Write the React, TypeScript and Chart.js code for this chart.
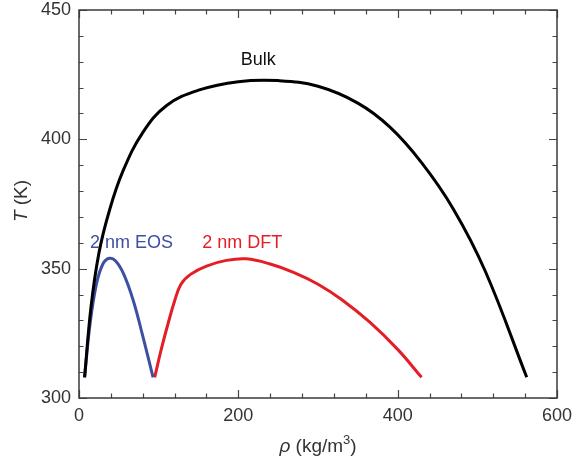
import React, { useEffect, useRef } from "react";
import { Chart, registerables } from "chart.js";

Chart.register(...registerables);

// Bulk coexistence curve
const bulkRho = [7, 15, 25, 38, 55, 80, 110, 150, 200, 250, 300, 350, 390, 430, 470, 510, 562];
const bulkT = [308, 335, 356, 372.3, 387.6, 402.6, 413.1, 419, 422.3, 422.7, 420.5, 414, 404.8, 391, 373, 349, 308];

// 2 nm EOS
const eosRho = [7, 14, 22, 30, 38, 46, 56, 68, 80, 93];
const eosT = [308, 329, 344.2, 351.8, 354, 353, 348, 337.8, 324, 308];

// 2 nm DFT
const dftRho = [95, 103, 112, 120, 128, 140, 160, 185, 210, 240, 270, 300, 330, 365, 400, 430];
const dftT = [308, 318.5, 329, 337.5, 344, 347.8, 351, 353.2, 353.8, 351.8, 348.5, 344, 338, 329.3, 318.8, 308];

const seriesNames = ["Bulk", "2 nm EOS", "2 nm DFT"];
const labelRho = [225, 66, 205];
const labelT = [430.6, 359.9, 359.9];

const xTitleParts = ["ρ", " (kg/m", "3", ")"];
const yTitleParts = ["T", " (K)"];

const xMin = 0, xMax = 600, xStep = 200, xMinorStep = 40;
const yMin = 300, yMax = 450, yStep = 50, yMinorStep = 10;

const colors = ["#000000", "#3d4fa3", "#e31e26"];
const FONT = "'Liberation Sans', Arial, Helvetica, sans-serif";

const toPoints = (xs: number[], ys: number[]) => xs.map((x, i) => ({ x, y: ys[i] }));

const framePlugin = {
  id: "frameTicks",
  afterDraw(chart: any) {
    const { ctx, chartArea } = chart;
    const { left, right, top, bottom } = chartArea;
    const xs = chart.scales.x;
    const ys = chart.scales.y;
    ctx.save();
    ctx.strokeStyle = "#444";
    ctx.lineWidth = 1.2;
    ctx.beginPath();
    for (let v = xMin; v <= xMax + 1e-6; v += xMinorStep) {
      const px = Math.round(xs.getPixelForValue(v)) + 0.5;
      const major = Math.abs(v / xStep - Math.round(v / xStep)) < 1e-6;
      const len = major ? 8 : 4.5;
      ctx.moveTo(px, bottom);
      ctx.lineTo(px, bottom - len);
      ctx.moveTo(px, top);
      ctx.lineTo(px, top + len);
    }
    for (let v = yMin; v <= yMax + 1e-6; v += yMinorStep) {
      const py = Math.round(ys.getPixelForValue(v)) + 0.5;
      const major = Math.abs(v / yStep - Math.round(v / yStep)) < 1e-6;
      const len = major ? 8 : 4.5;
      ctx.moveTo(left, py);
      ctx.lineTo(left + len, py);
      ctx.moveTo(right, py);
      ctx.lineTo(right - len, py);
    }
    ctx.stroke();
    ctx.lineWidth = 1.5;
    ctx.strokeStyle = "#3a3a3a";
    ctx.strokeRect(left, top, right - left, bottom - top);

    // series labels
    ctx.font = `18px ${FONT}`;
    ctx.textAlign = "center";
    ctx.textBaseline = "middle";
    seriesNames.forEach((name, i) => {
      ctx.fillStyle = i === 0 ? "#111" : colors[i];
      ctx.fillText(name, xs.getPixelForValue(labelRho[i]), ys.getPixelForValue(labelT[i]));
    });

    // axis titles with italic symbols
    ctx.fillStyle = "#333";
    ctx.textAlign = "left";
    ctx.textBaseline = "alphabetic";
    const fonts = [`italic 19px ${FONT}`, `19px ${FONT}`, `13px ${FONT}`, `19px ${FONT}`];
    const offsets = [0, 0, -8, 0];
    const widths = xTitleParts.map((t, i) => {
      ctx.font = fonts[i];
      return ctx.measureText(t).width;
    });
    const total = widths.reduce((a, b) => a + b, 0);
    let cx = (left + right) / 2 - total / 2;
    const baseY = 452;
    xTitleParts.forEach((t, i) => {
      ctx.font = fonts[i];
      ctx.fillText(t, cx, baseY + offsets[i]);
      cx += widths[i];
    });

    const yFonts = [`italic 19px ${FONT}`, `19px ${FONT}`];
    const yWidths = yTitleParts.map((t, i) => {
      ctx.font = yFonts[i];
      return ctx.measureText(t).width;
    });
    const yTotal = yWidths.reduce((a, b) => a + b, 0);
    ctx.save();
    ctx.translate(27, (top + bottom) / 2 - 3);
    ctx.rotate(-Math.PI / 2);
    let cy = -yTotal / 2;
    yTitleParts.forEach((t, i) => {
      ctx.font = yFonts[i];
      ctx.fillText(t, cy, 0);
      cy += yWidths[i];
    });
    ctx.restore();
    ctx.restore();
  },
};

export default function App() {
  const ref = useRef<HTMLCanvasElement>(null);
  useEffect(() => {
    if (!ref.current) return;
    const datasets = [
      toPoints(bulkRho, bulkT),
      toPoints(eosRho, eosT),
      toPoints(dftRho, dftT),
    ].map((data, i) => ({
      label: seriesNames[i],
      data,
      showLine: true,
      borderColor: colors[i],
      backgroundColor: colors[i],
      borderWidth: 3,
      pointRadius: 0,
      tension: 0.4,
      fill: false,
    }));
    const chart = new Chart(ref.current, {
      type: "scatter",
      data: { datasets },
      options: {
        animation: false,
        responsive: false,
        maintainAspectRatio: false,
        layout: { padding: { top: 10, right: 17, left: 0, bottom: 0 } },
        plugins: { legend: { display: false }, tooltip: { enabled: false } },
        scales: {
          x: {
            type: "linear",
            min: xMin,
            max: xMax,
            grid: { display: false, drawTicks: false },
            border: { display: false },
            ticks: { stepSize: xStep, color: "#333", padding: 7, font: { size: 18, family: FONT } },
            title: { display: false },
            afterFit(scale: any) {
              scale.height = 65;
              scale.paddingLeft = 0;
              scale.paddingRight = 0;
            },
          },
          y: {
            type: "linear",
            min: yMin,
            max: yMax,
            grid: { display: false, drawTicks: false },
            border: { display: false },
            ticks: { stepSize: yStep, color: "#333", padding: 8, font: { size: 18, family: FONT } },
            title: { display: false },
            afterFit(scale: any) {
              scale.width = 79;
              scale.paddingTop = 0;
              scale.paddingBottom = 0;
            },
          },
        },
      },
      plugins: [framePlugin],
    });
    return () => chart.destroy();
  }, []);
  return (
    <div style={{ position: "fixed", left: 0, top: 0, width: 574, height: 463, background: "#fff" }}>
      <canvas ref={ref} width={574} height={463} style={{ display: "block" }} />
    </div>
  );
}
